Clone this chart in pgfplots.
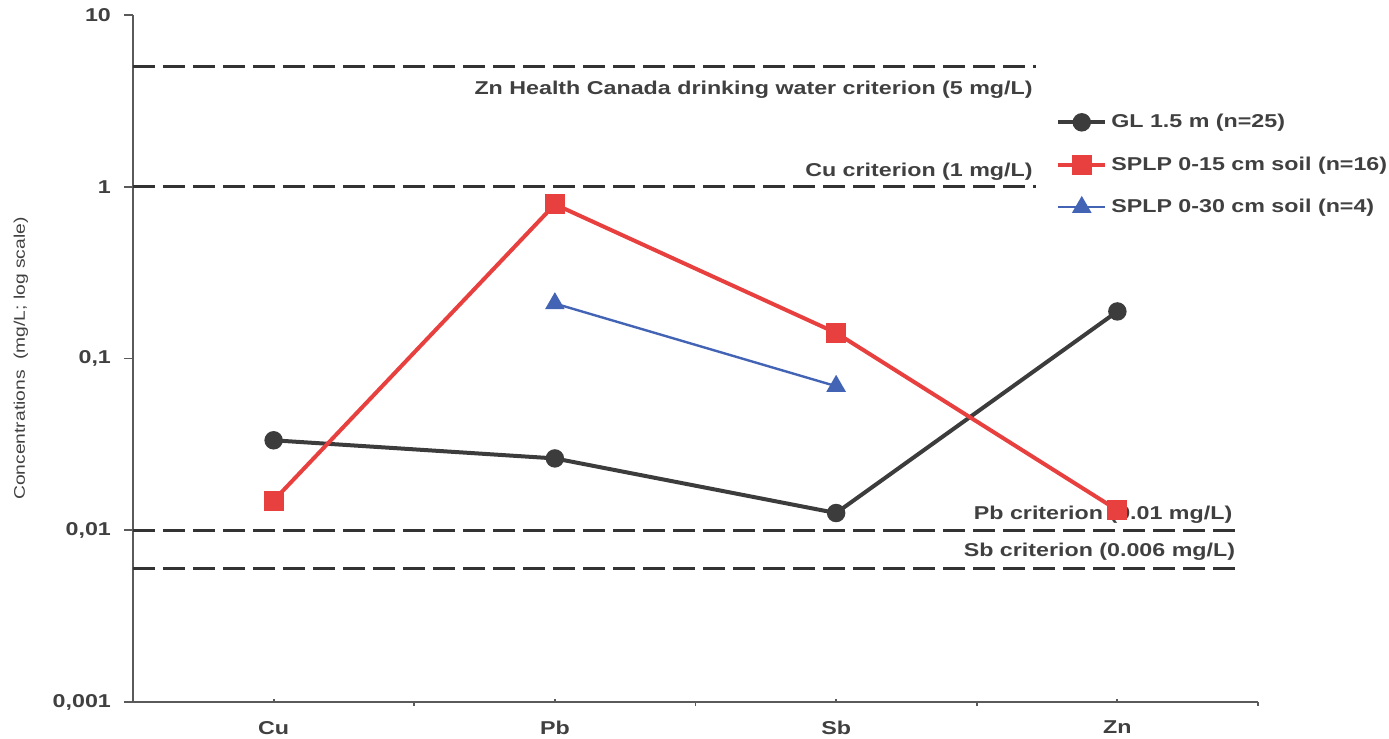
\documentclass[border=0pt]{standalone}
\usepackage{fontspec}
\setmainfont{Liberation Sans}[FakeStretch=1.25]
\usepackage{pgfplots}
\pgfplotsset{compat=1.18}
\definecolor{glc}{HTML}{3C3C3C}
\definecolor{redc}{HTML}{E8403F}
\definecolor{bluec}{HTML}{4363B5}
\definecolor{dashc}{HTML}{333333}
\definecolor{axc}{HTML}{5A5A5A}
\definecolor{txtc}{HTML}{404040}
\begin{document}
\begin{tikzpicture}
\begin{axis}[name=ax, scale only axis, width=562.5pt, height=343.5pt,
  ymode=log, ymin=0.001, ymax=10, xmin=-0.5, xmax=3.5,
  clip=false,
  axis x line*=bottom, axis y line*=left,
  axis line style={axc, line width=0.9pt},
  tick style={axc, line width=0.9pt},
  tick align=outside, major tick length=2pt, minor tick length=2pt,
  minor y tick style={xshift=2pt},
  xtick={0.5,1.5,2.5,3.5}, xticklabels={},
  extra x ticks={0,1,2,3},
  extra x tick labels={\textbf{Cu},\textbf{Pb},\textbf{Sb},\textbf{Zn}},
  extra x tick style={major tick length=1.5pt, major x tick style={yshift=1.5pt},
     tick label style={yshift=-4.5pt}},
  ytick=\empty,
  extra y ticks={0.001,0.01,0.1,1,10},
  extra y tick labels={{\textbf{0,001}},{\textbf{0,01}},{\textbf{0,1}},{\textbf{1}},{\textbf{10}}},
  extra y tick style={major tick length=4.5pt, tick label style={xshift=-3pt}},
  minor ytick={0.002,0.003,0.004,0.005,0.006,0.007,0.008,0.009,
    0.02,0.03,0.04,0.05,0.06,0.07,0.08,0.09,
    0.2,0.3,0.4,0.5,0.6,0.7,0.8,0.9,2,3,4,5,6,7,8,9},
  tick label style={font=\bfseries\fontsize{9.3}{11}\selectfont, text=txtc},
  ylabel={Concentrations\ \ (mg/L; log scale)},
  ylabel style={at={(axis description cs:-0.0996,0.5)}, anchor=center,
     font=\fontsize{7.7}{9}\selectfont, text=txtc},
  legend style={draw=none, fill=none, at={(axis description cs:0.815,0.868)},
     anchor=north west, font=\bfseries\fontsize{9.3}{11}\selectfont,
     text=txtc, row sep=9pt},
  legend cell align=left,
  legend image code/.code={\draw[mark repeat=2,mark phase=2,#1] plot coordinates {(0pt,0pt) (11.75pt,0pt) (23.5pt,0pt)};},
]
% criteria lines
\addplot[dashc, line width=1.7pt, dash pattern=on 11pt off 4pt, forget plot] coordinates {(-0.5,5) (2.71,5)};
\addplot[dashc, line width=1.7pt, dash pattern=on 11pt off 4pt, forget plot] coordinates {(-0.5,1) (2.71,1)};
\addplot[dashc, line width=1.7pt, dash pattern=on 11pt off 4pt, forget plot] coordinates {(-0.5,0.01) (3.44,0.01)};
\addplot[dashc, line width=1.7pt, dash pattern=on 11pt off 4pt, forget plot] coordinates {(-0.5,0.006) (3.44,0.006)};
% data
\addplot[glc, line width=2pt, mark=*, mark size=3.6pt, mark options={solid}]
  coordinates {(0,0.0334) (1,0.0262) (2,0.0126) (3,0.188)};
\addlegendentry{GL 1.5 m (n=25)}
\addplot[redc, line width=2pt, mark=square*, mark size=4pt, mark options={solid}]
  coordinates {(0,0.0149) (1,0.79) (2,0.141) (3,0.0131)};
\addlegendentry{SPLP 0-15 cm soil (n=16)}
\addplot[bluec, line width=1.2pt, mark=triangle*, mark size=4.5pt, mark options={solid}]
  coordinates {(1,0.209) (2,0.069)};
\addlegendentry{SPLP 0-30 cm soil (n=4)}
% labels
\node[anchor=north east, inner sep=0pt, font=\bfseries\fontsize{9.3}{11}\selectfont, text=txtc] at (axis cs:2.70,5) [yshift=-7pt] {Zn Health Canada drinking water criterion (5 mg/L)};
\node[anchor=south east, inner sep=0pt, font=\bfseries\fontsize{9.3}{11}\selectfont, text=txtc] at (axis cs:2.70,1) [yshift=3pt] {Cu criterion (1 mg/L)};
\node[anchor=south east, inner sep=0pt, font=\bfseries\fontsize{9.3}{11}\selectfont, text=txtc] at (axis cs:3.41,0.01) [yshift=3pt] {Pb criterion (0.01 mg/L)};
\node[anchor=south east, inner sep=0pt, font=\bfseries\fontsize{9.3}{11}\selectfont, text=txtc] at (axis cs:3.42,0.006) [yshift=4pt] {Sb criterion (0.006 mg/L)};
\end{axis}
\pgfresetboundingbox
\path[use as bounding box] ([xshift=-66.5pt,yshift=-18pt]ax.south west) rectangle ([xshift=65.5pt,yshift=7.5pt]ax.north east);
\end{tikzpicture}
\end{document}
